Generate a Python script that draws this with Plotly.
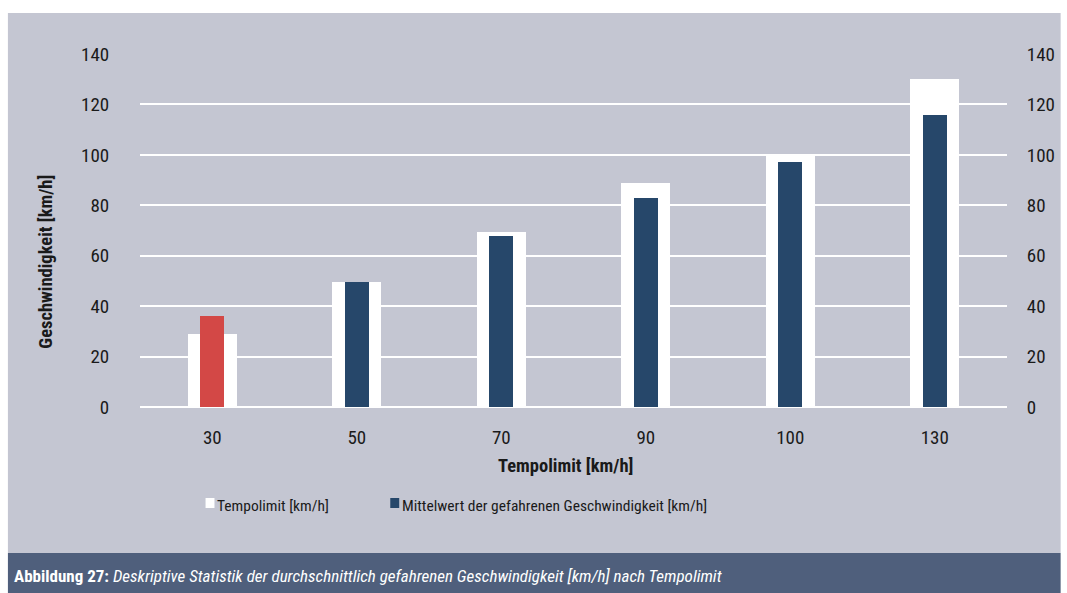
import plotly.graph_objects as go

# Speed limit categories and measured values
categories = ["30", "50", "70", "90", "100", "130"]
tempolimit = [29, 49.5, 69.5, 89, 100, 130]
mittelwert = [36, 49.5, 68, 83, 97, 116]
y_ticks = [0, 20, 40, 60, 80, 100, 120, 140]

FONT = "Liberation Sans Narrow, Roboto Condensed, Arial Narrow, Liberation Sans, sans-serif"
PANEL = "#c4c6d2"
BLUE = "#26476a"
RED = "#d34846"
CAPTION_BG = "#4f5f7c"
TEXT = "#1a1a1a"

# plot area in pixels: x 140..1013, y 54..407
PX_L, PX_R, PX_T, PX_B = 140, 1013, 54, 407


def px_x(px):
    return (px - PX_L) / (PX_R - PX_L)


def px_y(py):
    return (PX_B - py) / (PX_B - PX_T)


fig = go.Figure()

fig.add_trace(go.Bar(
    x=categories, y=tempolimit, name="Tempolimit [km/h]",
    marker=dict(color="white", line=dict(width=0)), width=0.336,
))
# first category highlighted in red, the rest in dark blue
fig.add_trace(go.Bar(
    x=categories[1:], y=mittelwert[1:],
    name="Mittelwert der gefahrenen Geschwindigkeit [km/h]",
    marker=dict(color=BLUE, line=dict(width=0)), width=0.168,
))
fig.add_trace(go.Bar(
    x=categories[:1], y=mittelwert[:1],
    marker=dict(color=RED, line=dict(width=0)), width=0.168,
))
# invisible trace carrying the right-hand axis
fig.add_trace(go.Scatter(x=categories, y=tempolimit, yaxis="y2", mode="markers",
                         marker=dict(opacity=0), hoverinfo="skip"))

axis_font = dict(family=FONT, size=19, color=TEXT)

fig.update_layout(
    width=1067, height=593,
    margin=dict(l=PX_L, r=1067 - PX_R, t=PX_T, b=593 - PX_B),
    paper_bgcolor="white", plot_bgcolor=PANEL,
    barmode="overlay", bargap=0, showlegend=False,
    font=dict(family=FONT, color=TEXT),
    xaxis=dict(
        type="category", tickfont=axis_font, showgrid=False,
        ticks="outside", ticklen=13, tickcolor="rgba(0,0,0,0)",
        showline=False, zeroline=False,
    ),
    yaxis=dict(
        range=[0, 140], tickvals=y_ticks, tickfont=axis_font,
        gridcolor="white", gridwidth=1.5, zeroline=True, zerolinecolor="white",
        zerolinewidth=1.5, ticks="outside", ticklen=26, tickcolor="rgba(0,0,0,0)",
        showline=False,
    ),
    yaxis2=dict(
        range=[0, 140], tickvals=y_ticks, tickfont=axis_font, overlaying="y",
        side="right", showgrid=False, zeroline=False, ticks="outside", ticklen=15,
        tickcolor="rgba(0,0,0,0)", showline=False,
    ),
)

# grey panel behind the chart and the caption bar
fig.add_shape(type="rect", xref="paper", yref="paper", layer="below",
              x0=px_x(7), x1=px_x(1067), y0=px_y(553), y1=px_y(13),
              fillcolor=PANEL, line=dict(width=0))
fig.add_shape(type="rect", xref="paper", yref="paper", layer="below",
              x0=px_x(7), x1=px_x(1067), y0=px_y(593), y1=px_y(553),
              fillcolor=CAPTION_BG, line=dict(width=0))

# legend: colour swatches with their labels
legend_items = [
    ("Tempolimit [km/h]", "white", 206),
    ("Mittelwert der gefahrenen Geschwindigkeit [km/h]", BLUE, 392),
]
for label, color, x0 in legend_items:
    fig.add_shape(type="rect", xref="paper", yref="paper",
                  x0=px_x(x0), x1=px_x(x0 + 9), y0=px_y(508), y1=px_y(498),
                  fillcolor=color, line=dict(width=0))
    fig.add_annotation(text=label, xref="paper", yref="paper",
                       x=px_x(x0 + 10), y=px_y(506), xanchor="left", yanchor="middle",
                       showarrow=False, font=dict(family=FONT, size=15.5, color=TEXT))

fig.add_annotation(text="<b>Tempolimit [km/h]</b>", xref="paper", yref="paper",
                   x=px_x(568), y=px_y(466), xanchor="center", yanchor="middle",
                   showarrow=False, font=dict(family=FONT, size=18.5, color=TEXT))
fig.add_annotation(text="<b>Geschwindigkeit [km/h]</b>", xref="paper", yref="paper",
                   x=px_x(45), y=px_y(262), xanchor="center", yanchor="middle",
                   showarrow=False, textangle=-90,
                   font=dict(family=FONT, size=18.5, color=TEXT))
fig.add_annotation(
    text="<b>Abbildung 27:</b> <i>Deskriptive Statistik der durchschnittlich gefahrenen "
         "Geschwindigkeit [km/h] nach Tempolimit</i>",
    xref="paper", yref="paper", x=px_x(11), y=px_y(576), xanchor="left",
    yanchor="middle", showarrow=False, font=dict(family=FONT, size=17, color="white"))

fig.write_html("out.html")
